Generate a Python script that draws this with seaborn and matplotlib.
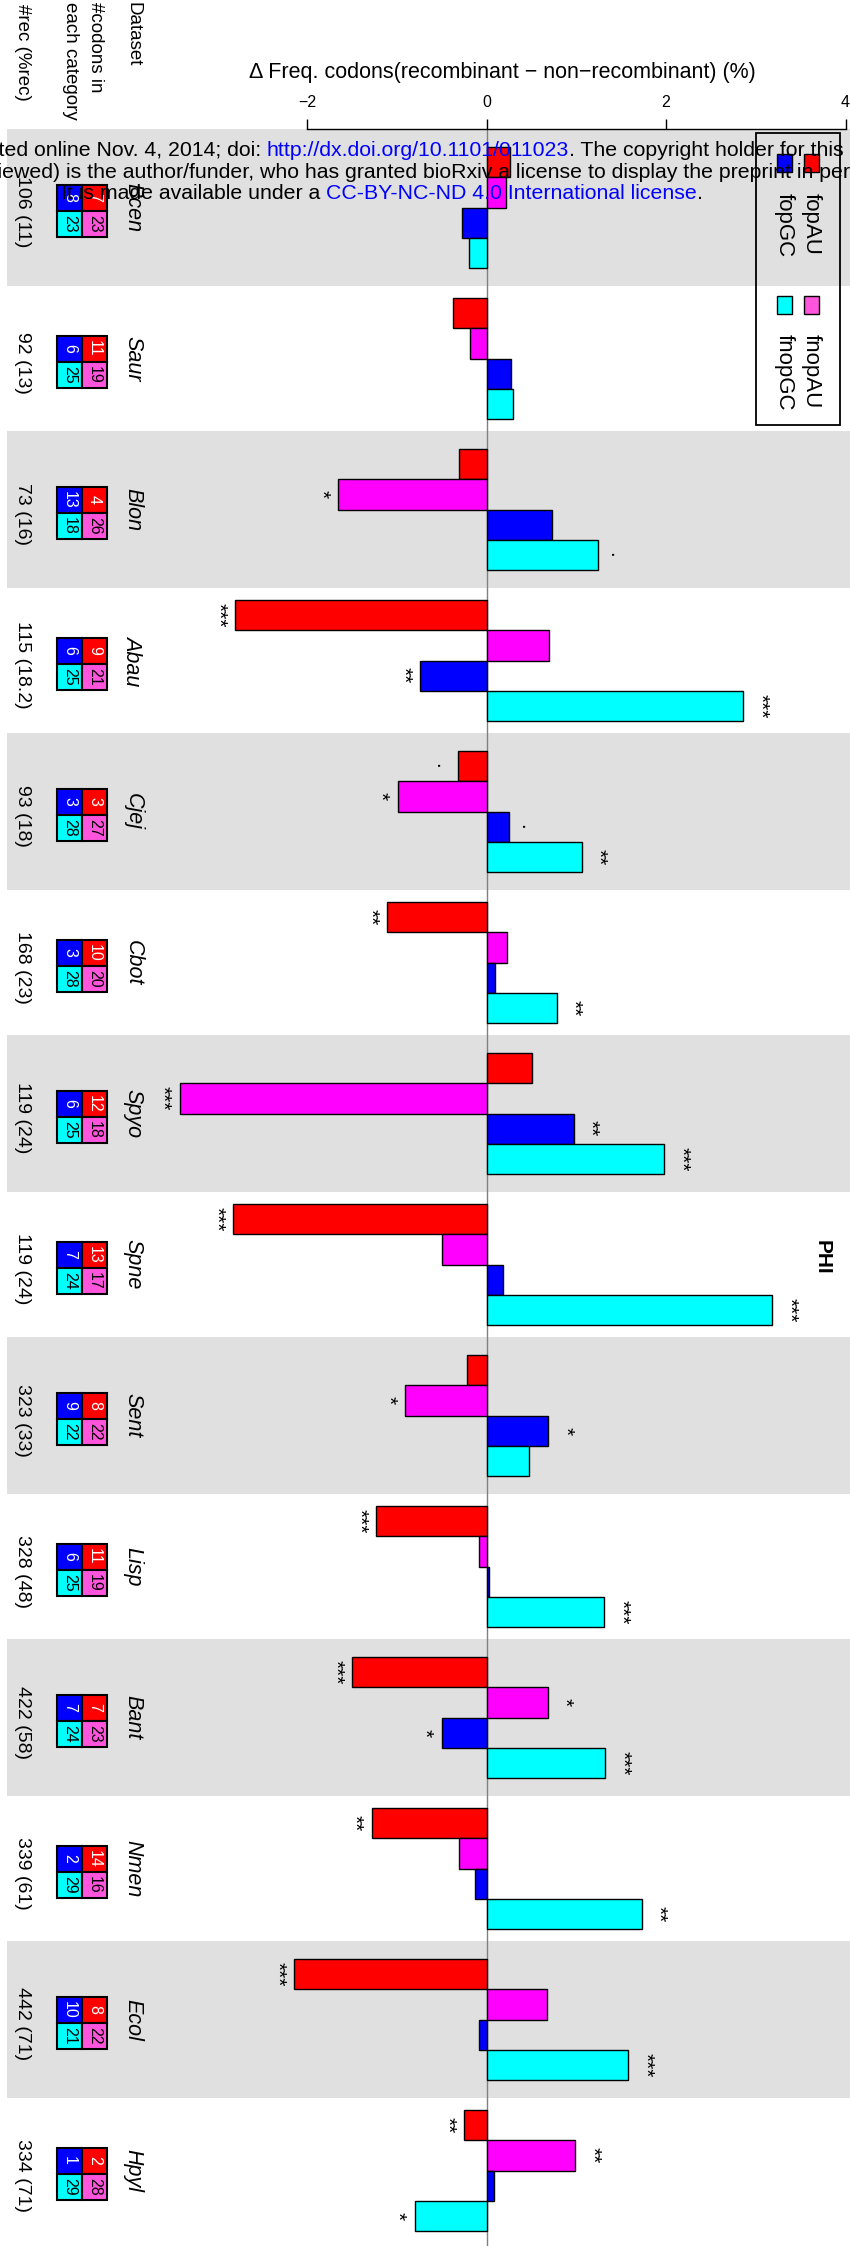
import numpy as np
import pandas as pd
import matplotlib
matplotlib.use("Agg")
import matplotlib.pyplot as plt
from matplotlib.patches import Rectangle
from matplotlib.colors import to_rgba
import seaborn as sns

# ---------------- data ----------------
datasets = ["Bcen", "Saur", "Blon", "Abau", "Cjej", "Cbot", "Spyo", "Spne",
            "Sent", "Lisp", "Bant", "Nmen", "Ecol", "Hpyl"]
rec_labels = ["106 (11)", "92 (13)", "73 (16)", "115 (18.2)", "93 (18)", "168 (23)",
              "119 (24)", "119 (24)", "323 (33)", "328 (48)", "422 (58)", "339 (61)",
              "442 (71)", "334 (71)"]
series = ["fopAU", "fnopAU", "fopGC", "fnopGC"]

fopAU = [0.26, -0.37, -0.31, -2.80, -0.32, -1.11, 0.51, -2.82, -0.22, -1.23, -1.50, -1.28, -2.14, -0.25]
fnopAU = [0.22, -0.18, -1.65, 0.70, -0.99, 0.23, -3.42, -0.50, -0.91, -0.08, 0.68, -0.31, 0.67, 0.99]
fopGC = [-0.27, 0.27, 0.73, -0.74, 0.25, 0.10, 0.97, 0.18, 0.69, 0.03, -0.50, -0.13, -0.08, 0.08]
fnopGC = [-0.20, 0.30, 1.24, 2.86, 1.06, 0.78, 1.98, 3.18, 0.47, 1.31, 1.32, 1.73, 1.58, -0.80]

sig_fopAU = ["", "", "", "***", ".", "**", "", "***", "", "***", "***", "**", "***", "**"]
sig_fnopAU = ["", "", "*", "", "*", "", "***", "", "*", "", "*", "", "", "**"]
sig_fopGC = ["", "", "", "**", ".", "", "**", "", "*", "", "*", "", "", ""]
sig_fnopGC = ["", "", ".", "***", "**", "**", "***", "***", "", "***", "***", "**", "***", "*"]

n_fopAU = [7, 11, 4, 9, 3, 10, 12, 13, 8, 11, 7, 14, 8, 2]
n_fopGC = [8, 6, 13, 6, 3, 3, 6, 7, 9, 6, 7, 2, 10, 1]
n_fnopAU = [23, 19, 26, 21, 27, 20, 18, 17, 22, 19, 23, 16, 22, 28]
n_fnopGC = [23, 25, 18, 25, 28, 28, 25, 24, 22, 25, 24, 29, 21, 29]

tick_values = [-2, 0, 2, 4]
tick_labels = ["\u22122", "0", "2", "4"]

title = "\u0394 Freq. codons(recombinant \u2212 non\u2212recombinant) (%)"

# ---------------- styles ----------------
bar_colors = ["#FF0000", "#FF00FF", "#0000FF", "#00FFFF"]
box_colors = {"fopAU": "#FF0000", "fnopAU": "#FF55DD", "fopGC": "#0000FF", "fnopGC": "#00FFFF"}

W, H, DPI = 850, 2246, 100
plt.rcParams["font.family"] = ["Liberation Sans", "DejaVu Sans"]
plt.rcParams["axes.unicode_minus"] = True

fig = plt.figure(figsize=(W / DPI, H / DPI), dpi=DPI)
fig.patch.set_facecolor("white")

AX_L, AX_T = 7, 129
ax = fig.add_axes([AX_L / W, 0, (W - AX_L) / W, (H - AX_T) / H])

X0_PX, UNIT = 486.5, 89.75


def px2x(px):
    return (px - X0_PX) / UNIT


YLIM = (13.5, -0.52)
PXY = (H - AX_T) / (YLIM[0] - YLIM[1])


def fx(px):
    return px / W


def fy(py):
    return 1 - py / H


# background bands
for k in range(0, len(datasets), 2):
    ax.axhspan(k - 0.5 - 0.023, k + 0.5 + 0.023, color="#E0E0E0", lw=0, zorder=0)
ax.axvline(0, color="#808080", lw=1.0, zorder=0.6)

values = {"fopAU": fopAU, "fnopAU": fnopAU, "fopGC": fopGC, "fnopGC": fnopGC}
df = pd.DataFrame({
    "dataset": datasets * 4,
    "series": sum([[s] * len(datasets) for s in series], []),
    "value": fopAU + fnopAU + fopGC + fnopGC,
})

sns.barplot(data=df, x="value", y="dataset", hue="series", order=datasets,
            hue_order=series, palette=bar_colors, orient="h", width=0.8,
            saturation=1, edgecolor="black", linewidth=1.0, errorbar=None,
            legend=False, ax=ax, zorder=2)

ax.set_xlim(px2x(AX_L), px2x(W))
ax.set_ylim(*YLIM)
ax.set_xlabel("")
ax.set_ylabel("")
ax.set_yticks([])
ax.set_facecolor("white")

# axis at top
ax.xaxis.set_ticks_position("top")
ax.set_xticks(tick_values)
ax.set_xticklabels(tick_labels)
ax.tick_params(axis="x", direction="out", length=7.2, width=1.0, labelsize=11.5,
               pad=6.5, top=True, bottom=False, labeltop=True, labelbottom=False)
for sp in ["left", "right", "bottom"]:
    ax.spines[sp].set_visible(False)
ax.spines["top"].set_bounds(-2, 4)
ax.spines["top"].set_linewidth(1.0)

# significance labels, placed from the drawn bars
sigs = [sig_fopAU, sig_fnopAU, sig_fopGC, sig_fnopGC]
pal_rgba = [np.array(to_rgba(c)) for c in bar_colors]
for cont in ax.containers:
    for bar in cont:
        fc = np.array(bar.get_facecolor())
        h = int(np.argmin([np.abs(fc - p).sum() for p in pal_rgba]))
        yc = bar.get_y() + bar.get_height() / 2
        k = int(round(yc))
        s = sigs[h][k]
        if not s:
            continue
        end = bar.get_x() + bar.get_width()
        sign = 1 if bar.get_width() >= 0 else -1
        ax.text(end + sign * 17 / UNIT, yc, s, rotation=-90, ha="center",
                va="center", fontsize=15, zorder=5)

# left columns: names, count boxes, recombination counts
hcell = 26 / PXY
for k, name in enumerate(datasets):
    ax.text(px2x(133), k, name, rotation=-90, ha="center", va="center",
            fontsize=15.5, style="italic", zorder=5)
    ax.text(px2x(22), k + 0.03, rec_labels[k], rotation=-90, ha="center",
            va="center", fontsize=14, zorder=5)
    yk = k + 0.02
    cells = [
        (57, yk - hcell, "fopGC", n_fopGC[k], "white"),
        (82, yk - hcell, "fopAU", n_fopAU[k], "white"),
        (57, yk, "fnopGC", n_fnopGC[k], "black"),
        (82, yk, "fnopAU", n_fnopAU[k], "black"),
    ]
    for xpx, y0, key, num, tc in cells:
        ax.add_patch(Rectangle((px2x(xpx), y0), 25 / UNIT, hcell,
                               facecolor=box_colors[key], edgecolor="black",
                               lw=1.5, zorder=4))
        ax.text(px2x(xpx + 12.5), y0 + hcell / 2, str(num), rotation=-90,
                ha="center", va="center", fontsize=11.5, color=tc, zorder=5)

# column headers
fig.text(fx(133), fy(2), "Dataset", rotation=-90, ha="center", va="top", fontsize=13.5)
fig.text(fx(95), fy(2), "#codons in", rotation=-90, ha="center", va="top", fontsize=13.5)
fig.text(fx(70), fy(2), "each category", rotation=-90, ha="center", va="top", fontsize=13.5)
fig.text(fx(22), fy(4), "#rec (%rec)", rotation=-90, ha="center", va="top", fontsize=13.5)

# title
fig.text(fx(502), fy(78), title, ha="center", va="baseline", fontsize=15.5)

# PHI label
fig.text(fx(822), fy(1257), "PHI", rotation=-90, ha="center", va="center",
         fontsize=15, weight="bold")

# legend (rotated, drawn by hand)
fig.add_artist(Rectangle((fx(756), fy(425)), (840 - 756) / W, (425 - 133) / H,
                         transform=fig.transFigure, facecolor="none",
                         edgecolor="black", lw=1.3, zorder=6))
leg_items = [("fopAU", 811, 154, 193), ("fopGC", 784, 154, 193),
             ("fnopAU", 811, 296, 334), ("fnopGC", 784, 296, 334)]
for key, cx, sq_top, txt_top in leg_items:
    fig.add_artist(Rectangle((fx(cx - 7.5), fy(sq_top + 18)), 15 / W, 18 / H,
                             transform=fig.transFigure, facecolor=box_colors[key],
                             edgecolor="black", lw=1.0, zorder=6))
    fig.text(fx(cx), fy(txt_top), key, rotation=-90, ha="center", va="top",
             fontsize=16, zorder=6)

# bioRxiv watermark overlay
renderer = fig.canvas.get_renderer()
WM_FS = 15.3


def text_width(s):
    t = fig.text(0, 0, s + "|", fontsize=WM_FS)
    t2 = fig.text(0, 0, "|", fontsize=WM_FS)
    w = t.get_window_extent(renderer).width - t2.get_window_extent(renderer).width
    t.remove()
    t2.remove()
    return w


def draw_line(segs, anchor_idx, anchor_x, base_y):
    widths = [text_width(s) for s, _ in segs]
    x = anchor_x - sum(widths[:anchor_idx])
    for (s, c), w in zip(segs, widths):
        fig.text(fx(x), fy(base_y), s, color=c, fontsize=WM_FS, ha="left",
                 va="baseline", zorder=10)
        x += w


draw_line([("bioRxiv preprint first posted online Nov. 4, 2014; doi: ", "black"),
           ("http://dx.doi.org/10.1101/011023", "#0000FF"),
           (". The copyright holder for this preprint (which was not", "black")],
          1, 267, 156)
draw_line([("peer-reviewed) is the author/funder, who has granted bioRxiv a license ", "black"),
           ("to display the preprint in perpetuity.", "black")],
          1, 588, 177.5)
draw_line([("It is made available under a ", "black"),
           ("CC-BY-NC-ND 4.0 International license", "#0000FF"),
           (".", "black")],
          1, 326, 199)

fig.savefig("out.png", dpi=DPI, facecolor="white")
